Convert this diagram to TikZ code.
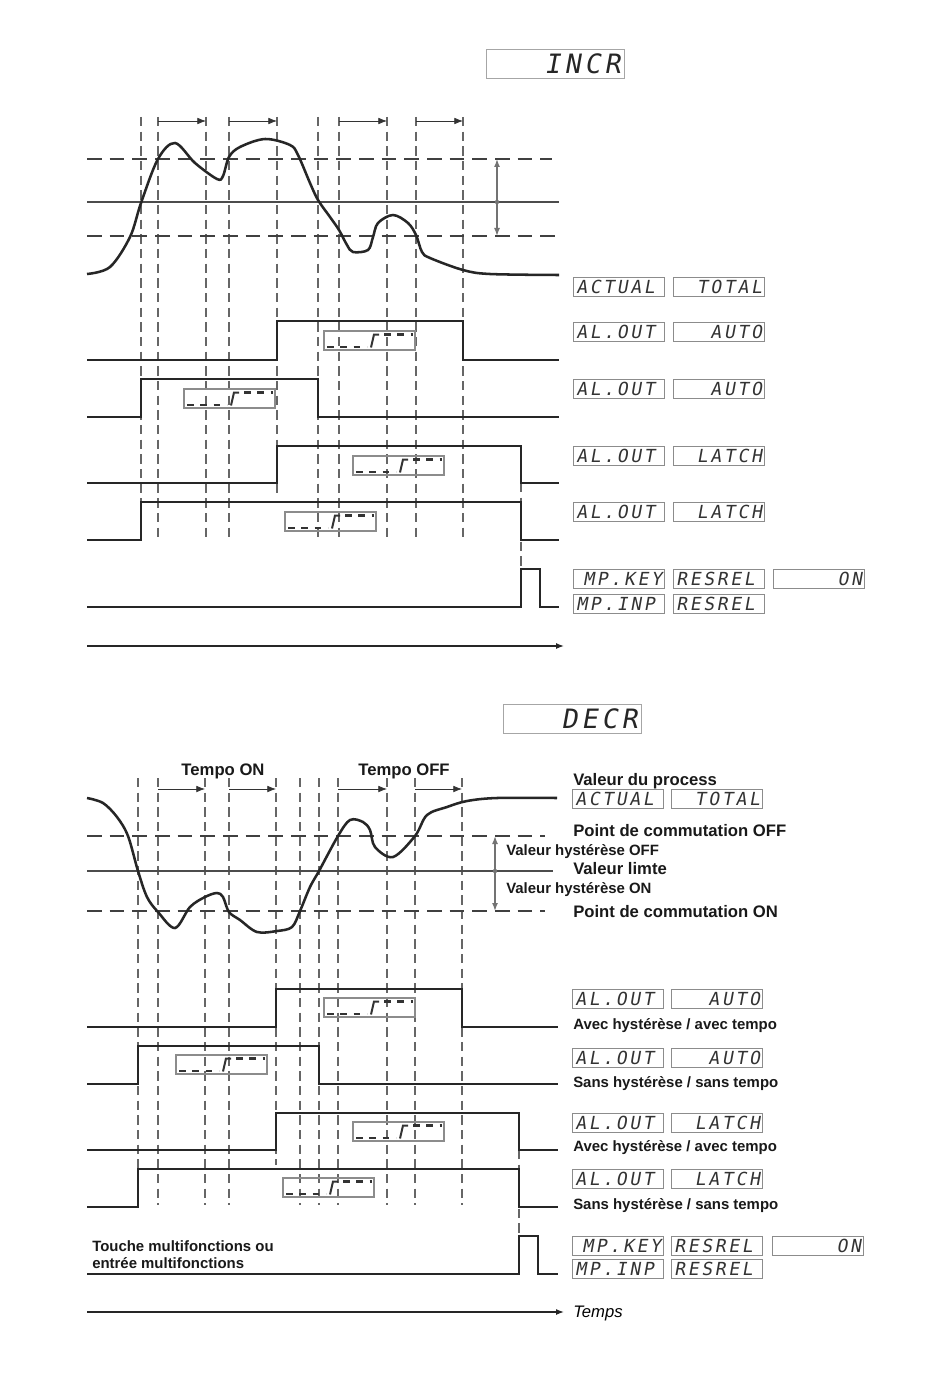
\documentclass[tikz,border=0pt]{standalone}
\usepackage{fontspec}
\setmainfont{Liberation Sans}
\newfontfamily\lcdfont[FakeSlant=0.18,LetterSpace=15]{DejaVu Sans Mono}
\usetikzlibrary{arrows.meta}
\begin{document}
\begin{tikzpicture}[x=0.75pt,y=-0.75pt,
  sig/.style={line width=2.2pt, black!85, line join=miter},
  vdash/.style={line width=0.8pt, black!60, dash pattern=on 7pt off 4pt},
  thr/.style={line width=1.5pt, black!75, dash pattern=on 11pt off 6pt},
  limit/.style={line width=1.4pt, black!70},
  proc/.style={line width=1.9pt, black!85},
  tempo/.style={line width=0.6pt, black!80, -{Latex[length=6.5pt,width=5pt]}},
  hyst/.style={line width=1.1pt, black!55, {Latex[length=6pt,width=4.5pt]}-{Latex[length=6pt,width=4.5pt]}},
  timeax/.style={line width=1pt, black!85, -{Latex[length=6pt,width=4.5pt]}},
  lcd/.style={draw=black!45, line width=0.9pt, minimum width=68.25pt, minimum height=14.25pt,
    inner xsep=2pt, inner ysep=0pt, anchor=north west, text width=64.25pt,
    font=\lcdfont\fontsize{13.5}{13.5}\selectfont, text=black!80},
  lcdr/.style={lcd, align=right},
  lcdl/.style={lcd, align=left},
  modebox/.style={draw=black!35, line width=0.8pt, minimum width=103.5pt, minimum height=21.75pt,
    inner xsep=3pt, inner ysep=0pt, anchor=north west, text width=97.5pt, align=right,
    font=\lcdfont\fontsize{20}{20}\selectfont, text=black!85},
  lbl/.style={font=\bfseries\fontsize{12.5}{14}\selectfont, anchor=base west, text=black!90, inner sep=0pt},
  sml/.style={font=\bfseries\fontsize{11.2}{13}\selectfont, anchor=base west, text=black!90, inner sep=0pt},
  stepicon/.pic={
    \draw[draw=black!45, line width=1pt] (0,0) rectangle (91,19);
    \draw[line width=1.6pt, black!80, dash pattern=on 5pt off 5pt] (3,16) -- (43,16);
    \draw[line width=1.5pt, black!80] (47,16.5) -- (50,3.5) -- (55,3.5);
    \draw[line width=1.6pt, black!80, dash pattern=on 5pt off 5pt] (60,3.5) -- (89,3.5);
  }
]
\useasboundingbox[fill=white] (0,0) rectangle (950,1373);

%================ TOP : INCR =================
\node[modebox] (incr) at (486,49) {INCR};

% vertical dashed lines
\foreach \x in {141,158,206,229,318,339,387,416,463}
  \draw[vdash] (\x,117) -- (\x,538);
\draw[vdash] (277,117) -- (277,497);
\draw[vdash] (521,483) -- (521,568);

% tempo arrows
\draw[tempo] (158,121) -- (206,121);
\draw[tempo] (229,121) -- (277,121);
\draw[tempo] (339,121) -- (387,121);
\draw[tempo] (416,121) -- (463,121);

% thresholds
\draw[thr] (87,159) -- (552,159);
\draw[limit] (87,202) -- (559,202);
\draw[thr] (87,236) -- (557,236);
\draw[hyst] (497,159) -- (497,236);
\fill[black!55] (497,202) circle (2.2);

% process curve
\draw[proc] plot[smooth, tension=0.55] coordinates {
 (87,274) (110,267) (130,237) (141,203) (158,159) (175,143) (195,163) (217,179)
 (223,176) (229,157) (240,147) (265,139) (290,145) (298,155) (310,183) (318,200)
 (330,217) (339,230) (347,245) (353,252) (368,250) (373,237) (378,223) (393,215)
 (408,223) (416,235) (422,252) (430,258) (463,270) (490,274) (559,275)};

% signals
\draw[sig] (87,360) -- (277,360) -- (277,321) -- (463,321) -- (463,360) -- (559,360);
\draw[sig] (87,417) -- (141,417) -- (141,379) -- (318,379) -- (318,417) -- (559,417);
\draw[sig] (87,483) -- (277,483) -- (277,446) -- (521,446) -- (521,483) -- (559,483);
\draw[sig] (87,540) -- (141,540) -- (141,502) -- (521,502) -- (521,540) -- (559,540);
\draw[sig] (87,607) -- (521,607) -- (521,569) -- (540,569) -- (540,607) -- (559,607);

\pic at (324,331) {stepicon};
\pic at (184,389) {stepicon};
\pic at (353,456) {stepicon};
\pic at (285,512) {stepicon};

\draw[timeax] (87,646) -- (564,646);

% LCD labels
\node[lcdl] (ta1) at (573,277) {ACTUAL};
\node[lcdr] (ta2) at (673,277) {TOTAL};
\node[lcdl] (tb1) at (573,322) {AL.OUT};
\node[lcdr] (tb2) at (673,322) {AUTO};
\node[lcdl] (tc1) at (573,379) {AL.OUT};
\node[lcdr] (tc2) at (673,379) {AUTO};
\node[lcdl] (td1) at (573,446) {AL.OUT};
\node[lcdr] (td2) at (673,446) {LATCH};
\node[lcdl] (te1) at (573,502) {AL.OUT};
\node[lcdr] (te2) at (673,502) {LATCH};
\node[lcdr] (tf1) at (573,569) {MP.KEY};
\node[lcdl] (tf2) at (673,569) {RESREL};
\node[lcdr] (tf3) at (773,569) {ON};
\node[lcdl] (tg1) at (573,594) {MP.INP};
\node[lcdl] (tg2) at (673,594) {RESREL};

%================ BOTTOM : DECR =================
\node[modebox] (decr) at (503,704) {DECR};

\foreach \x in {138,158,205,229,300,319,338,387,415,462}
  \draw[vdash] (\x,778) -- (\x,1205);
\draw[vdash] (276,778) -- (276,1165);
\draw[vdash] (519,1150) -- (519,1236);

\node[lbl, anchor=base] (ton) at (223,775) {Tempo ON};
\node[lbl, anchor=base] (toff) at (404,775) {Tempo OFF};
\draw[tempo] (158,789) -- (205,789);
\draw[tempo] (229,789) -- (276,789);
\draw[tempo] (338,789) -- (387,789);
\draw[tempo] (415,789) -- (462,789);

\draw[thr] (87,836) -- (545,836);
\draw[limit] (87,871) -- (553,871);
\draw[thr] (87,911) -- (545,911);
\draw[hyst] (495,836) -- (495,911);
\fill[black!55] (495,871) circle (2.2);

\draw[proc] plot[smooth, tension=0.55] coordinates {
 (87,798) (103,803) (117,817) (128,836) (138,871) (147,897) (158,912) (175,928)
 (190,907) (205,897) (217,893) (223,897) (229,912) (240,920) (257,932) (277,931)
 (292,927) (300,911) (310,887) (319,871) (338,836) (350,820) (363,822) (370,830)
 (375,847) (393,857) (415,836) (427,815) (447,807) (467,801) (497,798) (557,798)};

\draw[sig] (87,1027) -- (276,1027) -- (276,989) -- (462,989) -- (462,1027) -- (558,1027);
\draw[sig] (87,1084) -- (138,1084) -- (138,1046) -- (319,1046) -- (319,1084) -- (558,1084);
\draw[sig] (87,1150) -- (276,1150) -- (276,1113) -- (519,1113) -- (519,1150) -- (558,1150);
\draw[sig] (87,1207) -- (138,1207) -- (138,1169) -- (519,1169) -- (519,1207) -- (558,1207);
\draw[sig] (87,1274) -- (519,1274) -- (519,1236) -- (538,1236) -- (538,1274) -- (558,1274);

\pic at (324,998) {stepicon};
\pic at (176,1055) {stepicon};
\pic at (353,1122) {stepicon};
\pic at (283,1178) {stepicon};

\node[sml] (tm1) at (92,1251) {Touche multifonctions ou};
\node[sml] (tm2) at (92,1268) {entrée multifonctions};

\draw[timeax] (87,1312) -- (564,1312);
\node[font=\itshape\fontsize{12.5}{14}\selectfont, anchor=base west, inner sep=0pt] (temps) at (573,1317) {Temps};

% right-hand labels
\node[lbl] (vp) at (573,785) {Valeur du process};
\node[lcdl] (ba1) at (572,789) {ACTUAL};
\node[lcdr] (ba2) at (671,789) {TOTAL};
\node[lbl] (pcoff) at (573,836) {Point de commutation OFF};
\node[sml] (vhoff) at (506,855) {Valeur hystérèse OFF};
\node[lbl] (vl) at (573,874) {Valeur limte};
\node[sml] (vhon) at (506,893) {Valeur hystérèse ON};
\node[lbl] (pcon) at (573,917) {Point de commutation ON};

\node[lcdl] (bb1) at (572,989) {AL.OUT};
\node[lcdr] (bb2) at (671,989) {AUTO};
\node[sml] (bbt) at (573,1029) {Avec hystérèse / avec tempo};
\node[lcdl] (bc1) at (572,1048) {AL.OUT};
\node[lcdr] (bc2) at (671,1048) {AUTO};
\node[sml] (bct) at (573,1087) {Sans hystérèse / sans tempo};
\node[lcdl] (bd1) at (572,1113) {AL.OUT};
\node[lcdr] (bd2) at (671,1113) {LATCH};
\node[sml] (bdt) at (573,1151) {Avec hystérèse / avec tempo};
\node[lcdl] (be1) at (572,1169) {AL.OUT};
\node[lcdr] (be2) at (671,1169) {LATCH};
\node[sml] (bet) at (573,1209) {Sans hystérèse / sans tempo};
\node[lcdr] (bf1) at (572,1236) {MP.KEY};
\node[lcdl] (bf2) at (671,1236) {RESREL};
\node[lcdr] (bf3) at (772,1236) {ON};
\node[lcdl] (bg1) at (572,1259) {MP.INP};
\node[lcdl] (bg2) at (671,1259) {RESREL};
\end{tikzpicture}
\end{document}
